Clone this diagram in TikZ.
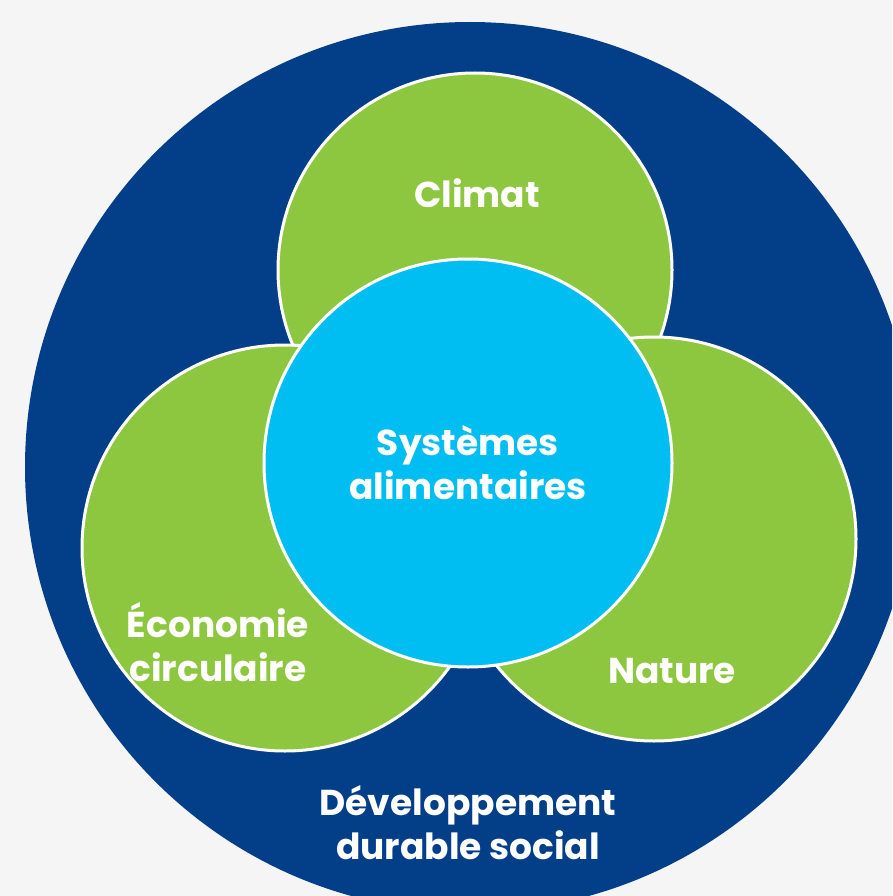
\documentclass[tikz,border=0pt]{standalone}
\usepackage{fontspec}
\setmainfont{Poppins}
\definecolor{bgc}{HTML}{F5F5F5}
\definecolor{navy}{HTML}{033F88}
\definecolor{leaf}{HTML}{8DC63F}
\definecolor{sky}{HTML}{00BEF2}
\tikzset{
  ring/.style={circle, draw=white, line width=3pt, minimum size=#1, inner sep=0pt},
  lbl/.style={text=white, align=center, font=\fontsize{36}{44}\selectfont\bfseries}
}
\begin{document}
\begin{tikzpicture}[x=1pt,y=-1pt]
\useasboundingbox (0,0) rectangle (892,896);
\fill[bgc] (0,0) rectangle (892,896);
\begin{scope}
\clip (0,0) rectangle (892,896);
\node[circle, fill=navy, minimum size=890pt, inner sep=0pt] (outer) at (470,467) {};
\end{scope}
\node[ring=394pt, fill=leaf] (climat) at (475,270) {};
\node[ring=406pt, fill=leaf] (eco) at (285,548) {};
\node[ring=404pt, fill=leaf] (nature) at (654,539) {};
\node[ring=408pt, fill=sky] (sys) at (468,463) {};
\node[lbl] (tclimat) at (477,193) {Climat};
\node[lbl] (tsys) at (468,463) {Systèmes\\alimentaires};
\node[lbl] (teco) at (218,642) {Économie\\circulaire};
\node[lbl] (tnat) at (672,671) {Nature};
\node[lbl] (tdev) at (468,823) {Développement\\durable social};
\end{tikzpicture}
\end{document}
